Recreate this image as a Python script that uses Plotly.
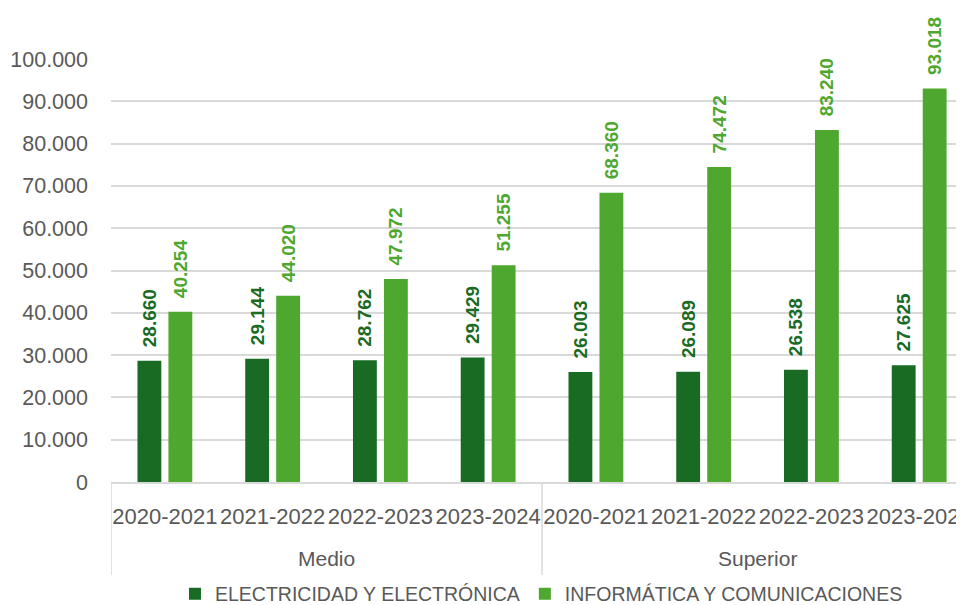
import plotly.graph_objects as go

levels = ["Medio"] * 4 + ["Superior"] * 4
years = ["2020-2021", "2021-2022", "2022-2023", "2023-2024"] * 2
electricidad = [28660, 29144, 28762, 29429, 26003, 26089, 26538, 27625]
informatica = [40254, 44020, 47972, 51255, 68360, 74472, 83240, 93018]
series_names = ["ELECTRICIDAD Y ELECTRÓNICA", "INFORMÁTICA Y COMUNICACIONES"]
colors = ["#196B24", "#4EA72E"]
y_ticks = [0, 10000, 20000, 30000, 40000, 50000, 60000, 70000, 80000, 90000, 100000]

FONT = "Liberation Sans, Arial, sans-serif"
GRAY = "#595959"
LINE = "#D9D9D9"

xpos = list(range(len(years)))

fig = go.Figure()
for name, vals, col in zip(series_names, [electricidad, informatica], colors):
    fig.add_trace(go.Bar(
        x=xpos, y=vals, name=name,
        marker=dict(color=col, line=dict(width=0)),
        texttemplate="\u00a0\u00a0%{y:,d}",
        textposition="outside", textangle=-90,
        textfont=dict(family=FONT, size=19, color=col, weight="bold"),
        constraintext="none", cliponaxis=False,
    ))

# group labels and dividers of the two-level category axis
groups = []
for i, g in enumerate(levels):
    if not groups or groups[-1][0] != g:
        groups.append([g, i, i])
    else:
        groups[-1][2] = i
for g, i0, i1 in groups:
    fig.add_annotation(x=(i0 + i1) / 2, y=-0.1797, xref="x", yref="paper",
                       text=g, showarrow=False, yanchor="middle",
                       font=dict(family=FONT, size=21, color=GRAY))
    fig.add_shape(type="line", xref="x", yref="paper", x0=i0 - 0.5, x1=i0 - 0.5,
                  y0=0, y1=-0.22, line=dict(color=LINE, width=1.5))

fig.update_layout(
    template="none",
    width=956, height=597,
    margin=dict(l=103, r=0, t=51, b=123, autoexpand=False),
    paper_bgcolor="white", plot_bgcolor="white",
    separators=",.",
    barmode="group", bargap=0.425, bargroupgap=0.23,
    font=dict(family=FONT, size=20, color=GRAY),
    showlegend=True,
    legend=dict(orientation="h", x=0.075, xanchor="left", y=-0.265, yanchor="middle",
                font=dict(size=19.5, color=GRAY), traceorder="normal"),
    xaxis=dict(
        range=[-0.5, 7.416], automargin=False,
        tickvals=xpos, ticktext=years, ticklabelstandoff=14,
        ticklabeloverflow="allow",
        showline=True, linecolor=LINE, linewidth=1.5,
        tickfont=dict(size=22, color=GRAY), showgrid=False, ticks="", zeroline=False,
    ),
    yaxis=dict(
        range=[0, 100000], tickvals=y_ticks, tickformat=",d", automargin=False,
        showgrid=True, gridcolor=LINE, gridwidth=1.5,
        zeroline=False, showline=False, ticks="", ticklabelstandoff=22,
        tickfont=dict(size=21.5, color=GRAY),
    ),
)

fig.write_html("out.html")
